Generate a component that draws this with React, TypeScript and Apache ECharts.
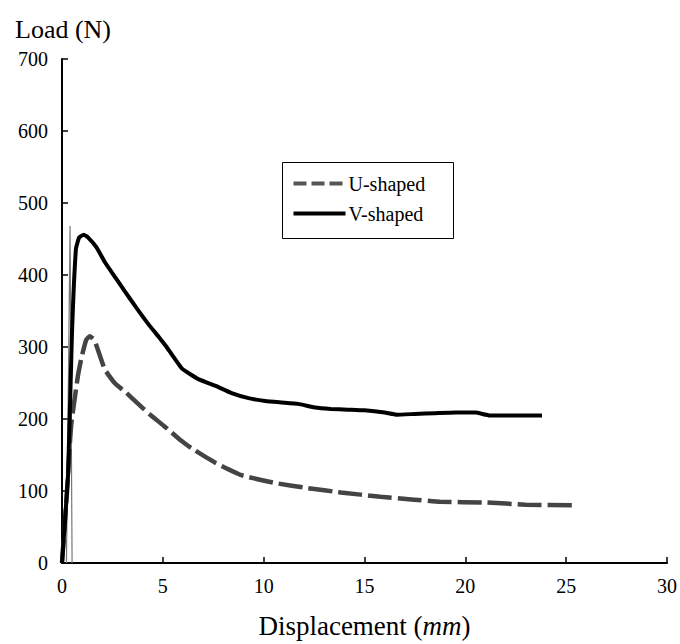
import React, { useEffect, useRef } from "react";
import * as echarts from "echarts";

const vShapedX = [0, 0.3, 0.49, 0.69, 0.85, 1.08, 1.3, 1.72, 2.12, 2.51, 3.1, 3.7, 4.33, 4.8, 5.16, 5.95, 6.79, 7.62, 8.41, 9.25, 10.08, 10.87, 11.71, 12.54, 13.33, 14.17, 15, 16, 16.6, 17.5, 18.5, 19.5, 20.5, 21.2, 22.5, 23.8];
const vShapedY = [0, 122, 315, 436, 452, 456, 452, 438, 418, 402, 378, 354, 330, 314, 301, 270, 255, 246, 236, 229, 225, 223, 221, 216, 214, 213, 212, 209, 206, 207, 208, 209, 209, 205, 205, 205];

const uShapedX = [0, 0.25, 0.45, 0.79, 0.98, 1.2, 1.38, 1.6, 1.77, 2.12, 2.61, 3.2, 3.74, 4.33, 5.07, 5.9, 6.44, 7.62, 8.9, 10.58, 12.2, 13.82, 15.79, 17.46, 18.74, 21, 23, 25.4];
const uShapedY = [0, 100, 190, 260, 287, 310, 315, 310, 297, 269, 250, 236, 222, 207, 190, 170, 159, 139, 122, 111, 104, 98, 92, 88, 85, 84, 81, 80];

const spikeX = [0.22, 0.4, 0.5];
const spikeY = [0, 468, 0];

const seriesNames = ["U-shaped", "V-shaped"];
const xTicks = [0, 5, 10, 15, 20, 25, 30];
const yTicks = [0, 100, 200, 300, 400, 500, 600, 700];

const FONT = "Liberation Serif";

export default function App() {
  const ref = useRef<HTMLDivElement>(null);
  useEffect(() => {
    if (!ref.current) return;
    const chart = echarts.init(ref.current, undefined, { renderer: "svg" });
    const zip = (xs: number[], ys: number[]) => xs.map((x, i) => [x, ys[i]]);
    chart.setOption({
      animation: false,
      backgroundColor: "#fff",
      textStyle: { fontFamily: FONT },
      grid: { left: 62, right: 7, top: 59, bottom: 75 },
      legend: { show: false },
      graphic: [
        {
          type: "group",
          left: 282,
          top: 162,
          children: [
            { type: "rect", shape: { x: 0, y: 0, width: 171, height: 76 }, style: { fill: "#fff", stroke: "#000", lineWidth: 1 } },
            { type: "line", shape: { x1: 11, y1: 21, x2: 63, y2: 21 }, style: { stroke: "#555", lineWidth: 4, lineDash: [13, 5] } },
            { type: "line", shape: { x1: 11, y1: 51, x2: 63, y2: 51 }, style: { stroke: "#000", lineWidth: 4 } },
            { type: "text", x: 66, y: 21, style: { text: seriesNames[0], fill: "#000", fontFamily: FONT, fontSize: 20, verticalAlign: "middle", align: "left" } },
            { type: "text", x: 66, y: 51, style: { text: seriesNames[1], fill: "#000", fontFamily: FONT, fontSize: 20, verticalAlign: "middle", align: "left" } },
          ],
        },
      ],
      xAxis: {
        type: "value",
        min: xTicks[0],
        max: xTicks[xTicks.length - 1],
        interval: 5,
        splitLine: { show: false },
        axisLine: { lineStyle: { color: "#000", width: 2 } },
        axisTick: { inside: true, length: 6, lineStyle: { color: "#000", width: 1.5 } },
        axisLabel: { color: "#000", fontSize: 20, fontFamily: FONT, margin: 13 },
        name: "{a|Displacement (}{b|mm}{a|)}",
        nameLocation: "middle",
        nameGap: 49,
        nameTextStyle: {
          rich: {
            a: { fontFamily: FONT, fontSize: 27, color: "#000" },
            b: { fontFamily: FONT, fontSize: 27, color: "#000", fontStyle: "italic" },
          },
        },
      },
      yAxis: {
        type: "value",
        min: yTicks[0],
        max: yTicks[yTicks.length - 1],
        interval: 100,
        splitLine: { show: false },
        axisLine: { lineStyle: { color: "#000", width: 2 } },
        axisTick: { inside: true, length: 6, lineStyle: { color: "#000", width: 1.5 } },
        axisLabel: { color: "#000", fontSize: 20, fontFamily: FONT, margin: 14 },
        name: "Load (N)",
        nameLocation: "end",
        nameGap: 17,
        nameTextStyle: { fontFamily: FONT, fontSize: 26, color: "#000", align: "left", padding: [0, 0, 0, -47] },
      },
      series: [
        {
          name: "spike",
          type: "line",
          data: zip(spikeX, spikeY),
          showSymbol: false,
          symbol: "none",
          silent: true,
          lineStyle: { color: "#777", width: 1.2 },
          z: 1,
        },
        {
          name: seriesNames[0],
          type: "line",
          data: zip(uShapedX, uShapedY),
          showSymbol: false,
          symbol: "none",
          smooth: 0.12,
          lineStyle: { color: "#444", width: 4.5, type: [24, 6] },
          itemStyle: { color: "#555" },
          z: 2,
        },
        {
          name: seriesNames[1],
          type: "line",
          data: zip(vShapedX, vShapedY),
          showSymbol: false,
          symbol: "none",
          smooth: 0.12,
          lineStyle: { color: "#000", width: 4 },
          itemStyle: { color: "#000" },
          z: 3,
        },
      ],
    });
    return () => chart.dispose();
  }, []);
  return (
    <div
      ref={ref}
      style={{ position: "fixed", left: 0, top: 0, width: 680, height: 644, background: "#fff" }}
    />
  );
}
